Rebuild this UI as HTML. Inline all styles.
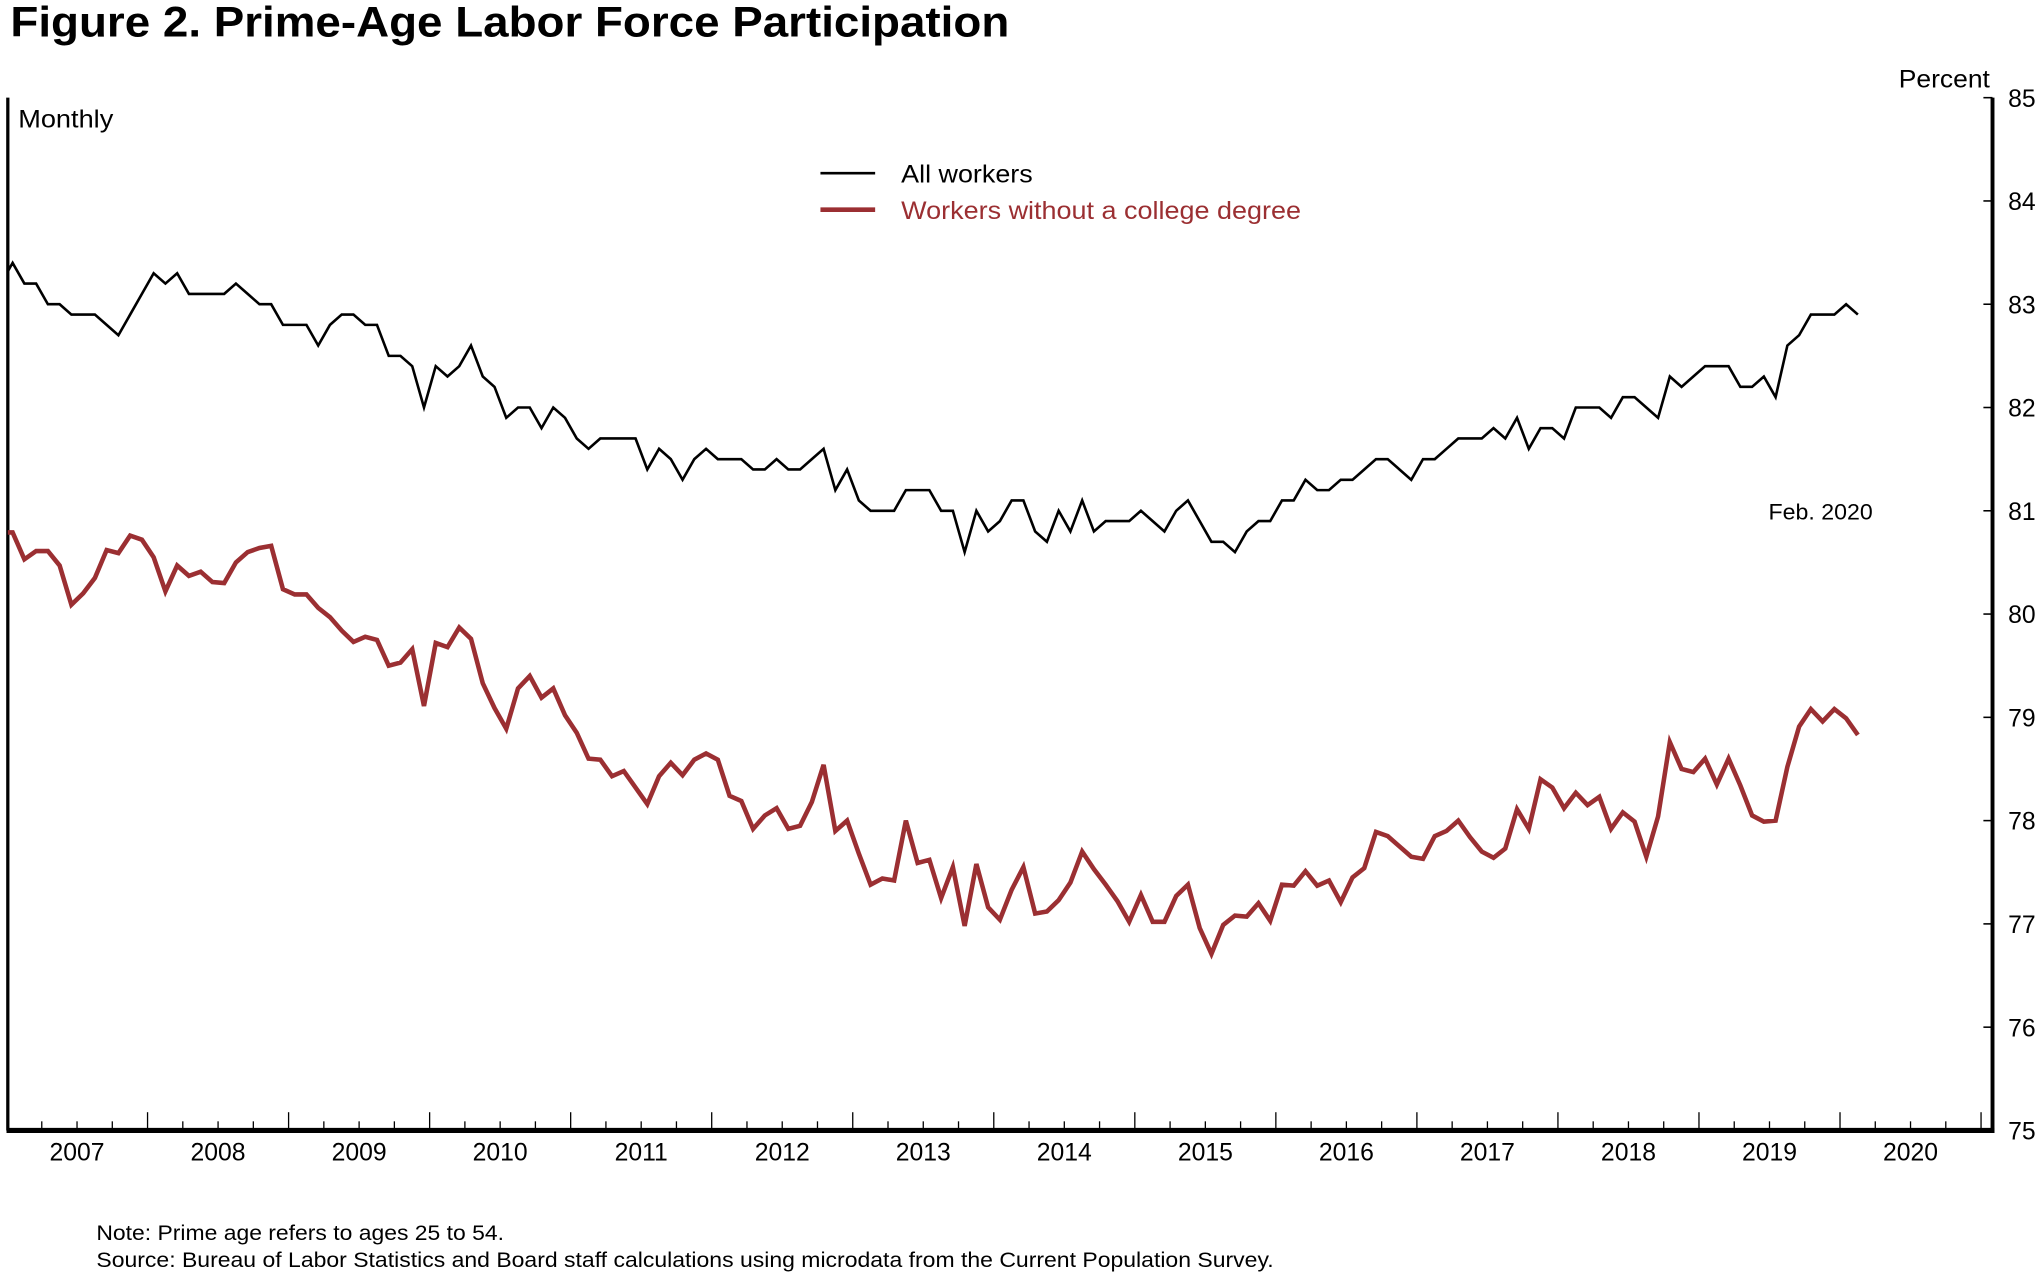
<!DOCTYPE html>
<html><head><meta charset="utf-8">
<style>
html,body{margin:0;padding:0;background:#fff;}
svg{display:block;}
text{font-family:"Liberation Sans",Arial,sans-serif;}
</style></head>
<body>
<svg id="chart" width="2042" height="1275" viewBox="0 0 1568 979" preserveAspectRatio="none" xmlns="http://www.w3.org/2000/svg">
  <text x="8" y="28" font-size="33" font-weight="bold" textLength="767" lengthAdjust="spacingAndGlyphs">Figure 2. Prime-Age Labor Force Participation</text>
  <text x="14" y="98" font-size="19" textLength="73" lengthAdjust="spacingAndGlyphs">Monthly</text>
  <text x="1458" y="67" font-size="19" textLength="70" lengthAdjust="spacingAndGlyphs">Percent</text>
  <g id="axes"></g>
  <g id="series"></g>
  <g>
    <line x1="630" y1="133" x2="672" y2="133" stroke="#000" stroke-width="2"/>
    <text x="692" y="140" font-size="19" textLength="101" lengthAdjust="spacingAndGlyphs">All workers</text>
    <line x1="630" y1="161" x2="672" y2="161" stroke="#9b2f32" stroke-width="3.5"/>
    <text x="692" y="168" font-size="19" fill="#9b2f32" textLength="307" lengthAdjust="spacingAndGlyphs">Workers without a college degree</text>
  </g>
  <text x="1358" y="399" font-size="17" textLength="80" lengthAdjust="spacingAndGlyphs">Feb. 2020</text>
  <text x="74" y="952" font-size="16" textLength="313" lengthAdjust="spacingAndGlyphs">Note: Prime age refers to ages 25 to 54.</text>
  <text x="74" y="973" font-size="16" textLength="904" lengthAdjust="spacingAndGlyphs">Source: Bureau of Labor Statistics and Board staff calculations using microdata from the Current Population Survey.</text>
</svg>
<script>
const startYear = 2006.96;
const allWorkers = [83.2,83.4,83.2,83.2,83.0,83.0,82.9,82.9,82.9,82.8,82.7,82.9,83.1,83.3,83.2,83.3,83.1,83.1,83.1,83.1,83.2,83.1,83.0,83.0,82.8,82.8,82.8,82.6,82.8,82.9,82.9,82.8,82.8,82.5,82.5,82.4,82.0,82.4,82.3,82.4,82.6,82.3,82.2,81.9,82.0,82.0,81.8,82.0,81.9,81.7,81.6,81.7,81.7,81.7,81.7,81.4,81.6,81.5,81.3,81.5,81.6,81.5,81.5,81.5,81.4,81.4,81.5,81.4,81.4,81.5,81.6,81.2,81.4,81.1,81.0,81.0,81.0,81.2,81.2,81.2,81.0,81.0,80.6,81.0,80.8,80.9,81.1,81.1,80.8,80.7,81.0,80.8,81.1,80.8,80.9,80.9,80.9,81.0,80.9,80.8,81.0,81.1,80.9,80.7,80.7,80.6,80.8,80.9,80.9,81.1,81.1,81.3,81.2,81.2,81.3,81.3,81.4,81.5,81.5,81.4,81.3,81.5,81.5,81.6,81.7,81.7,81.7,81.8,81.7,81.9,81.6,81.8,81.8,81.7,82.0,82.0,82.0,81.9,82.1,82.1,82.0,81.9,82.3,82.2,82.3,82.4,82.4,82.4,82.2,82.2,82.3,82.1,82.6,82.7,82.9,82.9,82.9,83.0,82.9];
const noCollege = [80.79,80.79,80.53,80.61,80.61,80.47,80.09,80.20,80.35,80.62,80.59,80.76,80.72,80.55,80.22,80.47,80.37,80.41,80.31,80.30,80.50,80.60,80.64,80.66,80.24,80.19,80.19,80.06,79.97,79.84,79.73,79.78,79.75,79.50,79.53,79.66,79.11,79.72,79.68,79.87,79.76,79.33,79.09,78.89,79.28,79.40,79.19,79.28,79.02,78.85,78.60,78.59,78.43,78.48,78.32,78.16,78.43,78.56,78.44,78.59,78.65,78.59,78.24,78.19,77.92,78.05,78.12,77.92,77.95,78.18,78.54,77.90,78.00,77.68,77.38,77.44,77.42,78.00,77.59,77.62,77.25,77.55,76.98,77.58,77.16,77.04,77.33,77.55,77.10,77.12,77.23,77.40,77.70,77.53,77.38,77.22,77.02,77.28,77.02,77.02,77.27,77.38,76.96,76.71,76.99,77.08,77.07,77.20,77.03,77.38,77.37,77.51,77.37,77.42,77.21,77.45,77.54,77.89,77.85,77.75,77.65,77.63,77.85,77.90,78.00,77.84,77.70,77.64,77.73,78.11,77.92,78.40,78.32,78.12,78.27,78.15,78.23,77.92,78.08,77.99,77.65,78.04,78.76,78.50,78.47,78.60,78.35,78.60,78.34,78.05,77.99,78.00,78.52,78.91,79.08,78.96,79.08,78.99,78.83];
const yTicks = [75,76,77,78,79,80,81,82,83,84,85];
const yearLabels = [2007,2008,2009,2010,2011,2012,2013,2014,2015,2016,2017,2018,2019,2020];

const NS = "http://www.w3.org/2000/svg";
const L = 6, R = 1530, T = 75, B = 868;
function xScale(t){ return 5 + (t - 2007) * 108.3; }
function yScale(v){ return B - (v - 75) * (B - T) / 10; }
function mk(tag, attrs, parent){
  const e = document.createElementNS(NS, tag);
  for (const k in attrs) e.setAttribute(k, attrs[k]);
  parent.appendChild(e); return e;
}
const axes = document.getElementById('axes');
const series = document.getElementById('series');

const defs = mk('defs', {}, document.getElementById('chart'));
const cp = mk('clipPath', {id:'plotclip'}, defs);
mk('rect', {x:L, y:T, width:R-L, height:B-T}, cp);

yTicks.forEach(v => {
  const y = yScale(v);
  const tk = mk('line', {x1:R-7, x2:R, y1:y, y2:y, stroke:'#000', 'stroke-width':1.2}, axes);
  
  
  const lb = mk('text', {x:1542, y:y+7, 'font-size':19}, axes);
  lb.textContent = v;
  
  
});

for (let q = 0; q <= 14*4; q++) {
  const t = 2007 + q/4;
  const x = xScale(t);
  if (x < L+1 || x > R-1) continue;
  const major = q % 4 === 0;
  const tk = mk('line', {x1:x, x2:x, y1:B, y2:B-(major?14:7), stroke:'#000', 'stroke-width':1}, axes);
  
  
}
yearLabels.forEach(yr => {
  const lb = mk('text', {x:xScale(yr+0.5), y:891, 'font-size':19, 'text-anchor':'middle'}, axes);
  lb.textContent = yr;
  
  
});

const la = mk('line', {x1:L, x2:L, y1:T, y2:B, stroke:'#000', 'stroke-width':2.5}, axes);


const ra = mk('line', {x1:R, x2:R, y1:T, y2:B+2, stroke:'#000', 'stroke-width':3}, axes);


const ba = mk('line', {x1:L-1, x2:R+1.5, y1:B, y2:B, stroke:'#000', 'stroke-width':4}, axes);



function pathFor(arr){
  return arr.map((v,i) => (i?'L':'M') + xScale(startYear + i/12).toFixed(2) + ',' + yScale(v).toFixed(2)).join(' ');
}
const p1 = mk('path', {d:pathFor(noCollege), fill:'none', stroke:'#9b2f32', 'stroke-width':3.5, 'clip-path':'url(#plotclip)'}, series);


const p2 = mk('path', {d:pathFor(allWorkers), fill:'none', stroke:'#000', 'stroke-width':2, 'clip-path':'url(#plotclip)'}, series);


</script>
</body></html>
